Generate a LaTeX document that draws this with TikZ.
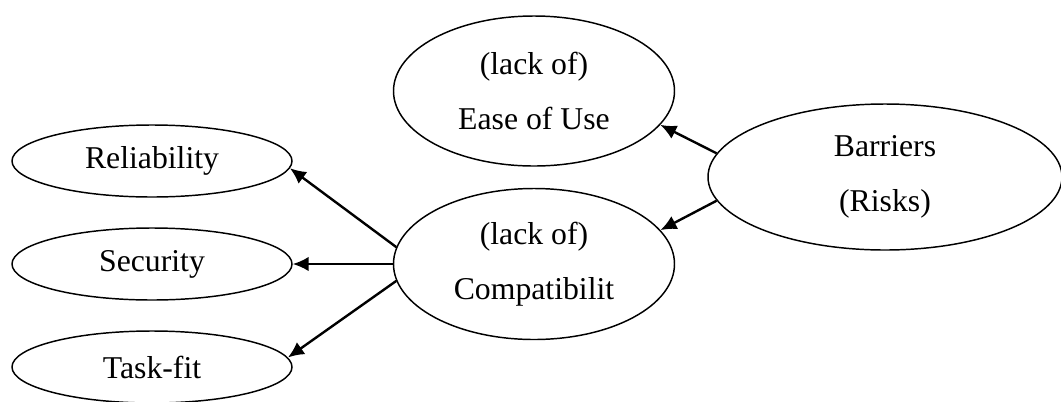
\documentclass[tikz,border=0pt]{standalone}
\usepackage{fontspec}
\setmainfont{Liberation Serif}
\usepackage{tikz}
\usetikzlibrary{arrows.meta,shapes.geometric}

\begin{document}
\begin{tikzpicture}[x=0.75pt,y=-0.75pt,
  bubble/.style={draw,ellipse,line width=1.1pt,inner sep=0pt,align=center,
    font=\fontsize{23.8}{41}\selectfont},
  link/.style={-{Latex[length=12pt,width=11pt]},line width=1.8pt}]
\useasboundingbox (0,0) rectangle (1061,401);
\node[bubble,minimum width=280pt*0.75,minimum height=72pt*0.75] (rel) at (152,161) {Reliability};
\node[bubble,minimum width=280pt*0.75,minimum height=72pt*0.75] (sec) at (152,264) {Security};
\node[bubble,minimum width=280pt*0.75,minimum height=72pt*0.75] (task) at (152,367) {Task-fit};
\node[bubble,minimum width=281pt*0.75,minimum height=151pt*0.75] (comp) at (534,264) {(lack of)\\Compatibilit};
\node[bubble,minimum width=281pt*0.75,minimum height=150pt*0.75] (ease) at (534,91) {(lack of)\\Ease of Use};
\node[bubble,minimum width=354pt*0.75,minimum height=146pt*0.75] (bar) at (885,177) {Barriers\\(Risks)};
\draw[link] (bar.172) -- (ease.-15);
\draw[link] (bar.188) -- (comp.15);
\draw[link] (comp.173) -- (rel.-3);
\draw[link] (comp.west) -- (sec.east);
\draw[link] (comp.187) -- (task.4);
\end{tikzpicture}
\end{document}
